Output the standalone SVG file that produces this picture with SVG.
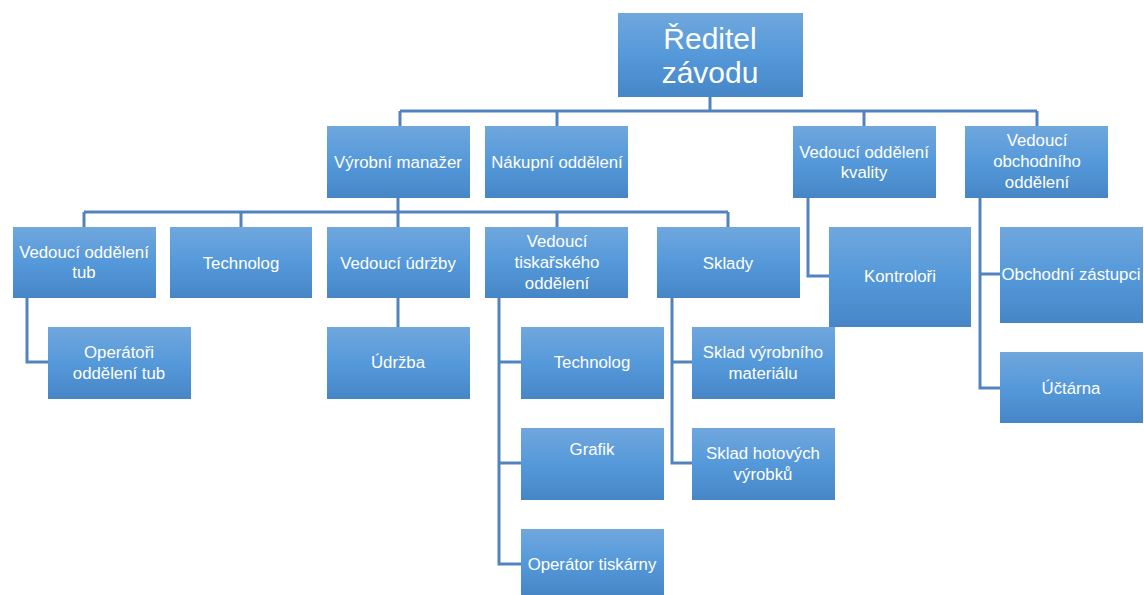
<svg xmlns="http://www.w3.org/2000/svg" width="1144" height="595" viewBox="0 0 1144 595">
<defs>
<linearGradient id="g" x1="0" y1="0" x2="0" y2="1">
<stop offset="0" stop-color="#70a7dd"/>
<stop offset="0.5" stop-color="#5599da"/>
<stop offset="1" stop-color="#4686c6"/>
</linearGradient>
<style>
.box{fill:url(#g);}
.t{font-family:"Liberation Sans",Arial,sans-serif;font-size:16.8px;fill:#ffffff;text-anchor:middle;dominant-baseline:central;}
.big{font-size:30px;}
.c{fill:none;stroke:#5283bd;stroke-width:3;}
</style>
</defs>
<rect width="1144" height="595" fill="#ffffff"/>
<g id="connectors">
<path class="c" d="M710 97V111M400 111H1037M400 111V126M557 111V126M864 111V126M1037 111V126"/>
<path class="c" d="M398 198V212M84 212H728M84 212V227M241 212V227M398 212V227M557 212V227M728 212V227"/>
<path class="c" d="M808 198V276H829"/>
<path class="c" d="M980 198V388H1000M980 274H1000"/>
<path class="c" d="M27 298V362H48"/>
<path class="c" d="M398 298V327"/>
<path class="c" d="M499 298V564H521M499 362H521M499 463H521"/>
<path class="c" d="M672 298V463H692M672 362H692"/>
</g>
<g id="n-reditel"><rect class="box" x="618" y="13" width="185" height="84"/><text class="t big" x="710" y="38">Ředitel</text><text class="t big" x="710" y="72">závodu</text></g>
<g id="n-vyrobni"><rect class="box" x="327" y="126" width="143" height="72"/><text class="t" x="398" y="162">Výrobní manažer</text></g>
<g id="n-nakupni"><rect class="box" x="485" y="126" width="143" height="72"/><text class="t" x="557" y="162">Nákupní oddělení</text></g>
<g id="n-kvalita"><rect class="box" x="793" y="126" width="143" height="72"/><text class="t" x="864" y="152">Vedoucí oddělení</text><text class="t" x="864" y="172">kvality</text></g>
<g id="n-obchod"><rect class="box" x="965" y="126" width="143" height="72"/><text class="t" x="1037" y="140">Vedoucí</text><text class="t" x="1037" y="161">obchodního</text><text class="t" x="1037" y="182">oddělení</text></g>
<g id="n-tub"><rect class="box" x="13" y="227" width="143" height="71"/><text class="t" x="84" y="252">Vedoucí oddělení</text><text class="t" x="84" y="272">tub</text></g>
<g id="n-technolog1"><rect class="box" x="170" y="227" width="142" height="71"/><text class="t" x="241" y="263">Technolog</text></g>
<g id="n-udrzby"><rect class="box" x="327" y="227" width="143" height="71"/><text class="t" x="398" y="263">Vedoucí údržby</text></g>
<g id="n-tisk"><rect class="box" x="485" y="227" width="143" height="71"/><text class="t" x="557" y="241">Vedoucí</text><text class="t" x="557" y="262">tiskařského</text><text class="t" x="557" y="283">oddělení</text></g>
<g id="n-sklady"><rect class="box" x="657" y="227" width="143" height="71"/><text class="t" x="728" y="263">Sklady</text></g>
<g id="n-kontrolori"><rect class="box" x="829" y="227" width="142" height="100"/><text class="t" x="900" y="276">Kontroloři</text></g>
<g id="n-zastupci"><rect class="box" x="1000" y="227" width="143" height="96"/><text class="t" x="1071" y="274">Obchodní zástupci</text></g>
<g id="n-operatori"><rect class="box" x="48" y="327" width="143" height="72"/><text class="t" x="119" y="352">Operátoři</text><text class="t" x="119" y="373">oddělení tub</text></g>
<g id="n-udrzba"><rect class="box" x="327" y="327" width="143" height="72"/><text class="t" x="398" y="362">Údržba</text></g>
<g id="n-technolog2"><rect class="box" x="521" y="327" width="143" height="72"/><text class="t" x="592" y="362">Technolog</text></g>
<g id="n-grafik"><rect class="box" x="521" y="428" width="143" height="72"/><text class="t" x="592" y="449">Grafik</text></g>
<g id="n-operator"><rect class="box" x="521" y="529" width="143" height="66"/><text class="t" x="592" y="564">Operátor tiskárny</text></g>
<g id="n-skladvm"><rect class="box" x="692" y="327" width="143" height="72"/><text class="t" x="763" y="352">Sklad výrobního</text><text class="t" x="763" y="373">materiálu</text></g>
<g id="n-skladhv"><rect class="box" x="692" y="428" width="143" height="72"/><text class="t" x="763" y="453">Sklad hotových</text><text class="t" x="763" y="474">výrobků</text></g>
<g id="n-uctarna"><rect class="box" x="1000" y="352" width="143" height="71"/><text class="t" x="1071" y="388">Účtárna</text></g>
</svg>
